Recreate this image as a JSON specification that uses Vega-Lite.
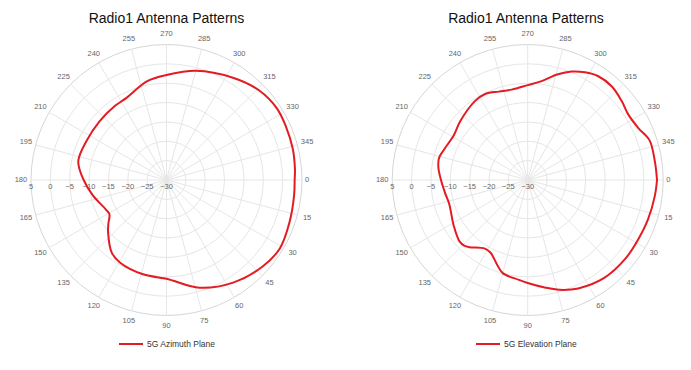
{
  "$schema": "https://vega.github.io/schema/vega-lite/v6.json",
  "padding": {"left": 0, "right": 0, "top": 12, "bottom": 0},
  "autosize": {"type": "pad"},
  "spacing": 28,
  "config": {
    "view": {"stroke": null},
    "font": "Liberation Sans",
    "title": {"fontSize": 14, "fontWeight": "normal", "color": "#111", "font": "Liberation Sans", "offset": 4, "anchor": "middle"},
    "legend": {
      "orient": "bottom", "offset": -2, "padding": 0,
      "labelFontSize": 8.5, "labelColor": "#333", "labelFont": "Liberation Sans",
      "symbolType": "stroke", "symbolSize": 576, "symbolStrokeWidth": 2, "labelOffset": 3,
      "layout": {"bottom": {"anchor": "middle"}}
    }
  },
  "datasets": {
    "circles": [{"db": -25}, {"db": -20}, {"db": -15}, {"db": -10}, {"db": -5}, {"db": 0}, {"db": 5}],
    "angles": [{"angle": 0}, {"angle": 15}, {"angle": 30}, {"angle": 45}, {"angle": 60}, {"angle": 75}, {"angle": 90}, {"angle": 105}, {"angle": 120}, {"angle": 135}, {"angle": 150}, {"angle": 165}, {"angle": 180}, {"angle": 195}, {"angle": 210}, {"angle": 225}, {"angle": 240}, {"angle": 255}, {"angle": 270}, {"angle": 285}, {"angle": 300}, {"angle": 315}, {"angle": 330}, {"angle": 345}],
    "ticks": [{"db": 5}, {"db": 0}, {"db": -5}, {"db": -10}, {"db": -15}, {"db": -20}, {"db": -25}, {"db": -30}],
    "azimuth": [
      {"plane": "5G Azimuth Plane", "angle": 0, "gain": 3.1},
      {"plane": "5G Azimuth Plane", "angle": 7, "gain": 3.2},
      {"plane": "5G Azimuth Plane", "angle": 19, "gain": 3.6},
      {"plane": "5G Azimuth Plane", "angle": 31, "gain": 4.2},
      {"plane": "5G Azimuth Plane", "angle": 42, "gain": 3.4},
      {"plane": "5G Azimuth Plane", "angle": 57, "gain": 1.6},
      {"plane": "5G Azimuth Plane", "angle": 73, "gain": -0.9},
      {"plane": "5G Azimuth Plane", "angle": 86, "gain": -3.9},
      {"plane": "5G Azimuth Plane", "angle": 90, "gain": -4.5},
      {"plane": "5G Azimuth Plane", "angle": 104, "gain": -4.9},
      {"plane": "5G Azimuth Plane", "angle": 119, "gain": -5.5},
      {"plane": "5G Azimuth Plane", "angle": 127, "gain": -6.5},
      {"plane": "5G Azimuth Plane", "angle": 138, "gain": -9.7},
      {"plane": "5G Azimuth Plane", "angle": 143, "gain": -11.2},
      {"plane": "5G Azimuth Plane", "angle": 149, "gain": -12.8},
      {"plane": "5G Azimuth Plane", "angle": 154, "gain": -12.6},
      {"plane": "5G Azimuth Plane", "angle": 168, "gain": -10.6},
      {"plane": "5G Azimuth Plane", "angle": 180, "gain": -8.6},
      {"plane": "5G Azimuth Plane", "angle": 192, "gain": -6.7},
      {"plane": "5G Azimuth Plane", "angle": 206, "gain": -7.0},
      {"plane": "5G Azimuth Plane", "angle": 221, "gain": -7.0},
      {"plane": "5G Azimuth Plane", "angle": 235, "gain": -6.7},
      {"plane": "5G Azimuth Plane", "angle": 244, "gain": -6.4},
      {"plane": "5G Azimuth Plane", "angle": 259, "gain": -4.0},
      {"plane": "5G Azimuth Plane", "angle": 270, "gain": -2.9},
      {"plane": "5G Azimuth Plane", "angle": 285, "gain": -0.8},
      {"plane": "5G Azimuth Plane", "angle": 303, "gain": 1.5},
      {"plane": "5G Azimuth Plane", "angle": 316, "gain": 3.3},
      {"plane": "5G Azimuth Plane", "angle": 327, "gain": 4.0},
      {"plane": "5G Azimuth Plane", "angle": 336, "gain": 3.8},
      {"plane": "5G Azimuth Plane", "angle": 346, "gain": 3.6},
      {"plane": "5G Azimuth Plane", "angle": 355, "gain": 3.3},
      {"plane": "5G Azimuth Plane", "angle": 360, "gain": 3.1}
    ],
    "elevation": [
      {"plane": "5G Elevation Plane", "angle": 0, "gain": 3.4},
      {"plane": "5G Elevation Plane", "angle": 7, "gain": 3.1},
      {"plane": "5G Elevation Plane", "angle": 18, "gain": 2.7},
      {"plane": "5G Elevation Plane", "angle": 28, "gain": 2.4},
      {"plane": "5G Elevation Plane", "angle": 39, "gain": 2.4},
      {"plane": "5G Elevation Plane", "angle": 52, "gain": 2.1},
      {"plane": "5G Elevation Plane", "angle": 65, "gain": 0.9},
      {"plane": "5G Elevation Plane", "angle": 74, "gain": -0.5},
      {"plane": "5G Elevation Plane", "angle": 81, "gain": -1.9},
      {"plane": "5G Elevation Plane", "angle": 90, "gain": -3.4},
      {"plane": "5G Elevation Plane", "angle": 95, "gain": -4.1},
      {"plane": "5G Elevation Plane", "angle": 105, "gain": -5.1},
      {"plane": "5G Elevation Plane", "angle": 110, "gain": -6.8},
      {"plane": "5G Elevation Plane", "angle": 117, "gain": -8.9},
      {"plane": "5G Elevation Plane", "angle": 122, "gain": -9.1},
      {"plane": "5G Elevation Plane", "angle": 131, "gain": -7.0},
      {"plane": "5G Elevation Plane", "angle": 134, "gain": -6.4},
      {"plane": "5G Elevation Plane", "angle": 138, "gain": -6.3},
      {"plane": "5G Elevation Plane", "angle": 148, "gain": -7.5},
      {"plane": "5G Elevation Plane", "angle": 163, "gain": -8.8},
      {"plane": "5G Elevation Plane", "angle": 171, "gain": -8.4},
      {"plane": "5G Elevation Plane", "angle": 180, "gain": -7.6},
      {"plane": "5G Elevation Plane", "angle": 188, "gain": -6.7},
      {"plane": "5G Elevation Plane", "angle": 194, "gain": -6.4},
      {"plane": "5G Elevation Plane", "angle": 201, "gain": -7.1},
      {"plane": "5G Elevation Plane", "angle": 211, "gain": -7.7},
      {"plane": "5G Elevation Plane", "angle": 221, "gain": -6.9},
      {"plane": "5G Elevation Plane", "angle": 236, "gain": -5.5},
      {"plane": "5G Elevation Plane", "angle": 244, "gain": -5.2},
      {"plane": "5G Elevation Plane", "angle": 252, "gain": -6.0},
      {"plane": "5G Elevation Plane", "angle": 260, "gain": -6.3},
      {"plane": "5G Elevation Plane", "angle": 270, "gain": -5.5},
      {"plane": "5G Elevation Plane", "angle": 278, "gain": -4.2},
      {"plane": "5G Elevation Plane", "angle": 286, "gain": -1.6},
      {"plane": "5G Elevation Plane", "angle": 292, "gain": 0.2},
      {"plane": "5G Elevation Plane", "angle": 298, "gain": 1.5},
      {"plane": "5G Elevation Plane", "angle": 304, "gain": 2.4},
      {"plane": "5G Elevation Plane", "angle": 312, "gain": 2.5},
      {"plane": "5G Elevation Plane", "angle": 320, "gain": 1.7},
      {"plane": "5G Elevation Plane", "angle": 327, "gain": 1.0},
      {"plane": "5G Elevation Plane", "angle": 335, "gain": 1.6},
      {"plane": "5G Elevation Plane", "angle": 342, "gain": 3.1},
      {"plane": "5G Elevation Plane", "angle": 352, "gain": 3.2},
      {"plane": "5G Elevation Plane", "angle": 360, "gain": 3.4}
    ]
  },
  "resolve": {
    "scale": {"x": "independent", "y": "independent", "size": "independent", "color": "independent"},
    "legend": {"color": "independent"}
  },
  "hconcat": [
    {
      "width": 333, "height": 302,
      "title": {"text": "Radio1 Antenna Patterns"},
      "layer": [
        {
          "data": {"name": "circles"},
          "transform": [{"calculate": "datum.db + 30", "as": "r"}, {"calculate": "0", "as": "o"}],
          "mark": {"type": "point", "shape": "circle", "filled": false, "opacity": 1, "strokeWidth": 1},
          "encoding": {
            "x": {"field": "o", "type": "quantitative", "scale": {"domain": [-43.008, 43.008], "nice": false, "zero": false}, "axis": null},
            "y": {"field": "o", "type": "quantitative", "scale": {"domain": [-39.52, 38.487], "nice": false, "zero": false}, "axis": null},
            "size": {"field": "r", "type": "quantitative", "scale": {"type": "pow", "exponent": 2, "domain": [0, 35], "range": [0, 73441]}, "legend": null},
            "stroke": {"condition": {"test": "datum.db == 5", "value": "#d6d6d6"}, "value": "#e6e6e6"}
          }
        },
        {
          "data": {"name": "angles"},
          "transform": [
            {"calculate": "0", "as": "o"},
            {"calculate": "35 * cos(datum.angle * PI / 180)", "as": "ex"},
            {"calculate": "-35 * sin(datum.angle * PI / 180)", "as": "ey"}
          ],
          "mark": {"type": "rule", "color": "#e6e6e6", "strokeWidth": 1},
          "encoding": {
            "x": {"field": "o", "type": "quantitative"},
            "y": {"field": "o", "type": "quantitative"},
            "x2": {"field": "ex"},
            "y2": {"field": "ey"}
          }
        },
        {
          "data": {"name": "angles"},
          "transform": [
            {"calculate": "datum.angle == 0 ? 36.3 : 37.6", "as": "lr"},
            {"calculate": "datum.lr * cos(datum.angle * PI / 180)", "as": "lx"},
            {"calculate": "-datum.lr * sin(datum.angle * PI / 180)", "as": "ly"}
          ],
          "mark": {"type": "text", "fontSize": 7.5, "color": "#666", "align": "center", "baseline": "middle"},
          "encoding": {
            "x": {"field": "lx", "type": "quantitative"},
            "y": {"field": "ly", "type": "quantitative"},
            "text": {"field": "angle", "type": "quantitative", "format": "d"}
          }
        },
        {
          "data": {"name": "ticks"},
          "transform": [{"calculate": "-(datum.db + 30)", "as": "tx"}, {"calculate": "0", "as": "o"}],
          "mark": {"type": "text", "fontSize": 7.5, "color": "#666", "align": "center", "baseline": "middle", "dy": 7},
          "encoding": {
            "x": {"field": "tx", "type": "quantitative"},
            "y": {"field": "o", "type": "quantitative"},
            "text": {"field": "db", "type": "quantitative", "format": "d"}
          }
        },
        {
          "data": {"name": "azimuth"},
          "transform": [
            {"calculate": "(datum.gain + 30) * cos(datum.angle * PI / 180)", "as": "x"},
            {"calculate": "-(datum.gain + 30) * sin(datum.angle * PI / 180)", "as": "y"}
          ],
          "mark": {"type": "line", "strokeWidth": 2, "interpolate": "catmull-rom"},
          "encoding": {
            "x": {"field": "x", "type": "quantitative"},
            "y": {"field": "y", "type": "quantitative"},
            "order": {"field": "angle", "type": "quantitative"},
            "color": {"field": "plane", "type": "nominal", "scale": {"domain": ["5G Azimuth Plane"], "range": ["#e31b23"]}, "legend": {"title": null}}
          }
        }
      ]
    },
    {
      "width": 330, "height": 302,
      "title": {"text": "Radio1 Antenna Patterns"},
      "layer": [
        {
          "data": {"name": "circles"},
          "transform": [{"calculate": "datum.db + 30", "as": "r"}, {"calculate": "0", "as": "o"}],
          "mark": {"type": "point", "shape": "circle", "filled": false, "opacity": 1, "strokeWidth": 1},
          "encoding": {
            "x": {"field": "o", "type": "quantitative", "scale": {"domain": [-43.06, 42.18], "nice": false, "zero": false}, "axis": null},
            "y": {"field": "o", "type": "quantitative", "scale": {"domain": [-39.52, 38.487], "nice": false, "zero": false}, "axis": null},
            "size": {"field": "r", "type": "quantitative", "scale": {"type": "pow", "exponent": 2, "domain": [0, 35], "range": [0, 73441]}, "legend": null},
            "stroke": {"condition": {"test": "datum.db == 5", "value": "#d6d6d6"}, "value": "#e6e6e6"}
          }
        },
        {
          "data": {"name": "angles"},
          "transform": [
            {"calculate": "0", "as": "o"},
            {"calculate": "35 * cos(datum.angle * PI / 180)", "as": "ex"},
            {"calculate": "-35 * sin(datum.angle * PI / 180)", "as": "ey"}
          ],
          "mark": {"type": "rule", "color": "#e6e6e6", "strokeWidth": 1},
          "encoding": {
            "x": {"field": "o", "type": "quantitative"},
            "y": {"field": "o", "type": "quantitative"},
            "x2": {"field": "ex"},
            "y2": {"field": "ey"}
          }
        },
        {
          "data": {"name": "angles"},
          "transform": [
            {"calculate": "datum.angle == 0 ? 36.3 : 37.6", "as": "lr"},
            {"calculate": "datum.lr * cos(datum.angle * PI / 180)", "as": "lx"},
            {"calculate": "-datum.lr * sin(datum.angle * PI / 180)", "as": "ly"}
          ],
          "mark": {"type": "text", "fontSize": 7.5, "color": "#666", "align": "center", "baseline": "middle"},
          "encoding": {
            "x": {"field": "lx", "type": "quantitative"},
            "y": {"field": "ly", "type": "quantitative"},
            "text": {"field": "angle", "type": "quantitative", "format": "d"}
          }
        },
        {
          "data": {"name": "ticks"},
          "transform": [{"calculate": "-(datum.db + 30)", "as": "tx"}, {"calculate": "0", "as": "o"}],
          "mark": {"type": "text", "fontSize": 7.5, "color": "#666", "align": "center", "baseline": "middle", "dy": 7},
          "encoding": {
            "x": {"field": "tx", "type": "quantitative"},
            "y": {"field": "o", "type": "quantitative"},
            "text": {"field": "db", "type": "quantitative", "format": "d"}
          }
        },
        {
          "data": {"name": "elevation"},
          "transform": [
            {"calculate": "(datum.gain + 30) * cos(datum.angle * PI / 180)", "as": "x"},
            {"calculate": "-(datum.gain + 30) * sin(datum.angle * PI / 180)", "as": "y"}
          ],
          "mark": {"type": "line", "strokeWidth": 2, "interpolate": "catmull-rom"},
          "encoding": {
            "x": {"field": "x", "type": "quantitative"},
            "y": {"field": "y", "type": "quantitative"},
            "order": {"field": "angle", "type": "quantitative"},
            "color": {"field": "plane", "type": "nominal", "scale": {"domain": ["5G Elevation Plane"], "range": ["#e31b23"]}, "legend": {"title": null}}
          }
        }
      ]
    }
  ]
}
